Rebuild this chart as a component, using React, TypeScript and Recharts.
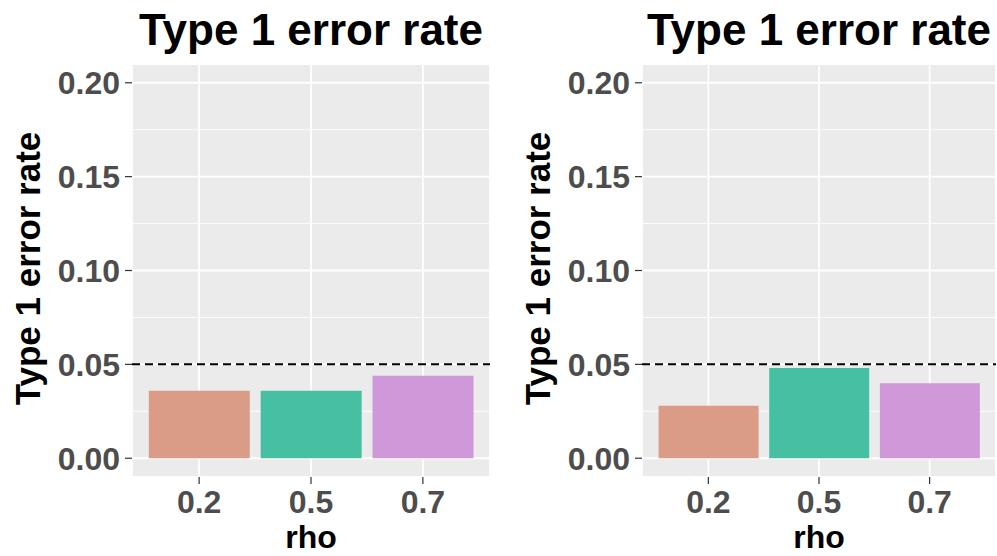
import { BarChart, Bar, XAxis, YAxis, CartesianGrid, ReferenceLine, Cell } from 'recharts';

const rhoLevels = ['0.2', '0.5', '0.7'];
const leftRates = [0.036, 0.036, 0.044];
const rightRates = [0.028, 0.048, 0.04];
const barColors = ['#DA9C86', '#47BFA2', '#CE98D9'];
const yTicks = [0, 0.05, 0.1, 0.15, 0.2];
const minorTicks = [0.025, 0.075, 0.125, 0.175];
const alpha = 0.05;

const FONT = '"Liberation Sans", Arial, Helvetica, sans-serif';
const H = 556;
const PLOT_TOP = 64;
const PLOT_BOTTOM = 477;

interface PanelProps {
    rates: number[];
    left: number;
    width: number;
    yAxisWidth: number;
    marginRight: number;
}

function ErrorPanel({ rates, left, width, yAxisWidth, marginRight }: PanelProps) {
    const data = rhoLevels.map((rho, i) => ({ rho, rate: rates[i] }));
    const plotWidth = width - yAxisWidth - marginRight;
    // ggplot-style discrete expansion: 0.6 of a category step on each side
    const pad = (plotWidth - (plotWidth / 3.2) * 3) / 2;
    const tickStyle = { fontSize: 32, fontWeight: 700, fill: '#4D4D4D', fontFamily: FONT };

    return (
        <div style={{ position: 'absolute', left, top: 0 }}>
            <BarChart
                width={width}
                height={H}
                data={data}
                margin={{ top: PLOT_TOP, right: marginRight, bottom: 0, left: 0 }}
                barCategoryGap="5%"
            >
                <CartesianGrid fill="#EBEBEB" stroke="#FFFFFF" strokeWidth={1.8} />
                <CartesianGrid
                    vertical={false}
                    horizontalValues={minorTicks}
                    stroke="#FFFFFF"
                    strokeWidth={0.9}
                />
                <XAxis
                    dataKey="rho"
                    height={H - PLOT_BOTTOM}
                    padding={{ left: pad, right: pad }}
                    axisLine={false}
                    tickSize={7}
                    tickMargin={6}
                    tickLine={{ stroke: '#333333', strokeWidth: 1.2 }}
                    tick={tickStyle}
                />
                <YAxis
                    width={yAxisWidth}
                    domain={[-0.01, 0.21]}
                    ticks={yTicks}
                    tickFormatter={(v: number) => v.toFixed(2)}
                    axisLine={false}
                    tickSize={7}
                    tickMargin={5}
                    tickLine={{ stroke: '#333333', strokeWidth: 1.2 }}
                    tick={tickStyle}
                />
                <Bar dataKey="rate" isAnimationActive={false}>
                    {data.map((d, i) => (
                        <Cell key={d.rho} fill={barColors[i]} />
                    ))}
                </Bar>
                <ReferenceLine y={alpha} stroke="#000000" strokeWidth={2} strokeDasharray="8 5" />
            </BarChart>
        </div>
    );
}

// titles and axis titles for both panels
function PanelText({ plotLeft, plotRight, labelX }: { plotLeft: number; plotRight: number; labelX: number }) {
    const cx = (plotLeft + plotRight) / 2;
    const cy = (PLOT_TOP + PLOT_BOTTOM) / 2 - 2;
    return (
        <g fontFamily={FONT} fontWeight={700} fill="#000000">
            <text x={cx} y={45} textAnchor="middle" fontSize={44}>Type 1 error rate</text>
            <text x={cx} y={548} textAnchor="middle" fontSize={32}>rho</text>
            <text
                x={labelX}
                y={cy}
                textAnchor="middle"
                fontSize={35}
                transform={`rotate(-90 ${labelX} ${cy})`}
                dy="0.35em"
            >
                Type 1 error rate
            </text>
        </g>
    );
}

export default function App() {
    return (
        <div style={{ position: 'absolute', left: 0, top: 0, width: 997, height: H, background: '#FFFFFF', overflow: 'hidden' }}>
            <ErrorPanel rates={leftRates} left={0} width={498} yAxisWidth={132} marginRight={8} />
            <ErrorPanel rates={rightRates} left={498} width={499} yAxisWidth={144} marginRight={1} />
            <svg width={997} height={H} style={{ position: 'absolute', left: 0, top: 0, pointerEvents: 'none' }}>
                <PanelText plotLeft={132} plotRight={490} labelX={28} />
                <PanelText plotLeft={642} plotRight={996} labelX={538} />
            </svg>
        </div>
    );
}
